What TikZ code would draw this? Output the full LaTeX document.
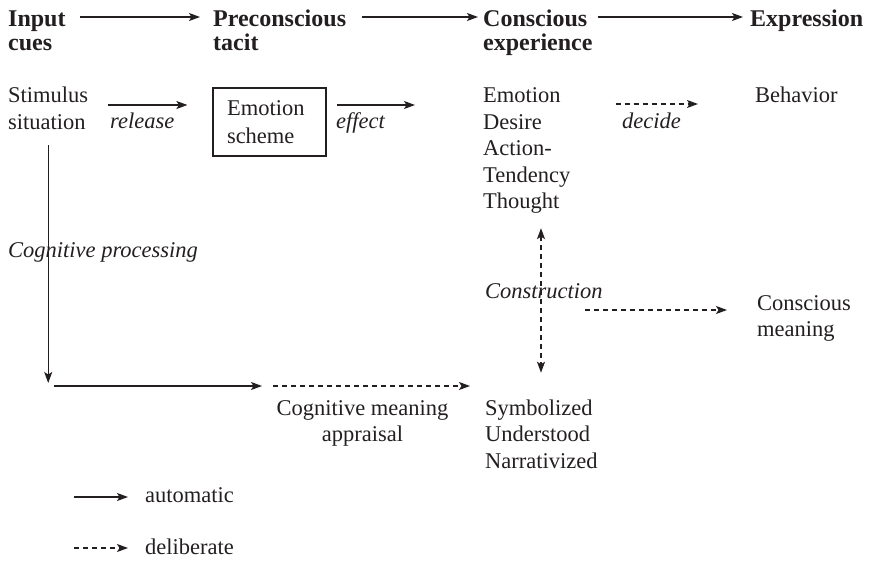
\documentclass[tikz,border=0pt]{standalone}
\usepackage{fontspec}
\setmainfont{Liberation Serif}
\usetikzlibrary{arrows.meta}
\definecolor{ink}{HTML}{231F20}
\newcommand{\stackl}[1]{\begin{tabular}[t]{@{}l@{}}#1\end{tabular}}
\newcommand{\stackc}[1]{\begin{tabular}[t]{@{}c@{}}#1\end{tabular}}
\begin{document}
\begin{tikzpicture}[x=1pt,y=-1pt,
  txt/.style={inner sep=0pt, anchor=base west, text=ink, font=\fontsize{22.5}{26.5}\selectfont},
  head/.style={txt, font=\fontsize{24}{23.5}\selectfont\bfseries},
  lab/.style={txt, font=\fontsize{22.5}{26.5}\selectfont\itshape},
  autoarrow/.style={draw=ink, line width=1.3pt, -{Stealth[length=11pt,width=8pt,inset=2.5pt]}},
  delarrow/.style={autoarrow, dash pattern=on 5pt off 4pt},
  bothdel/.style={delarrow, {Stealth[length=11pt,width=8pt,inset=2.5pt]}-{Stealth[length=11pt,width=8pt,inset=2.5pt]}},
  schemebox/.style={draw=ink, line width=1.2pt, text=ink, text width=85pt, align=left,
    inner xsep=14pt, inner ysep=0pt, minimum height=68pt, font=\fontsize{22.5}{28}\selectfont},
]
\useasboundingbox (0,0) rectangle (880,561);

% header
\node[head] (input)  at (8,27)   {\stackl{Input\\cues}};
\node[head] (precon) at (213,27) {\stackl{Preconscious\\tacit}};
\node[head] (consc)  at (483,27) {\stackl{Conscious\\experience}};
\node[head] (expr)   at (750,27) {Expression};

% body
\node[txt] (stim) at (8,103) {\stackl{Stimulus\\situation}};
\node[lab] (release) at (110,129) {release};
\node[schemebox] (box) at (269.5,122) {Emotion\\scheme};
\node[lab] (effect) at (336,129) {effect};
\node[txt] (emolist) at (483,103) {\stackl{Emotion\\Desire\\Action-\\Tendency\\Thought}};
\node[lab] (decide) at (622,129) {decide};
\node[txt] (behav) at (755,103) {Behavior};
\node[lab] (cogproc) at (8,258) {Cognitive processing};
\node[lab] (constr) at (485,298) {Construction};
\node[txt] (consmean) at (757,310) {\stackl{Conscious\\meaning}};
\node[txt, anchor=base] (cogmean) at (362.5,415) {\stackc{Cognitive meaning\\appraisal}};
\node[txt] (symb) at (485,415) {\stackl{Symbolized\\Understood\\Narrativized}};

% legend
\coordinate (la) at (74,497);
\coordinate (lb) at (74,548);
\node[txt] (autotxt) at (145,502) {automatic};
\node[txt] (deltxt) at (145,554) {deliberate};

% levels
\coordinate (hy) at (0,17);
\coordinate (ry) at (0,105);
\coordinate (dy) at (0,104);
\coordinate (hz) at (0,386);
\coordinate (mid) at (267.5,386);
\coordinate (cx) at (541,0);
\coordinate (cs) at (585,310);

% header arrows
\draw[autoarrow, shorten <=14.6pt, shorten >=13pt] (input.east |- hy) -- (precon.west |- hy);
\draw[autoarrow, shorten <=16pt, shorten >=5pt] (precon.east |- hy) -- (consc.west |- hy);
\draw[autoarrow, shorten <=5pt, shorten >=7pt] (consc.east |- hy) -- (expr.west |- hy);

% row arrows
\draw[autoarrow, shorten <=20pt, shorten >=25pt] (stim.east |- ry) -- (box.west |- ry);
\draw[autoarrow, shorten <=10pt, shorten >=68pt] (box.east |- ry) -- (emolist.west |- ry);
\draw[delarrow, shorten <=45pt, shorten >=57pt] (emolist.east |- dy) -- (behav.west |- dy);

% cognitive processing path
\draw[autoarrow, shorten <=7.5pt, shorten >=3pt] (stim.south) -- (stim.south |- hz);
\draw[autoarrow, shorten <=6pt, shorten >=5.5pt] (stim.south |- hz) -- (mid);
\draw[delarrow, shorten <=5.5pt, shorten >=15pt] (mid) -- (symb.west |- hz);

% construction
\draw[bothdel, shorten <=11pt, shorten >=23.5pt] (cx |- emolist.south) -- (cx |- symb.north);
\draw[delarrow, shorten >=30pt] (cs) -- (cs -| consmean.west);

% legend arrows
\draw[autoarrow, shorten >=17pt] (la) -- (la -| autotxt.west);
\draw[delarrow, shorten >=17pt] (lb) -- (lb -| deltxt.west);
\end{tikzpicture}
\end{document}
